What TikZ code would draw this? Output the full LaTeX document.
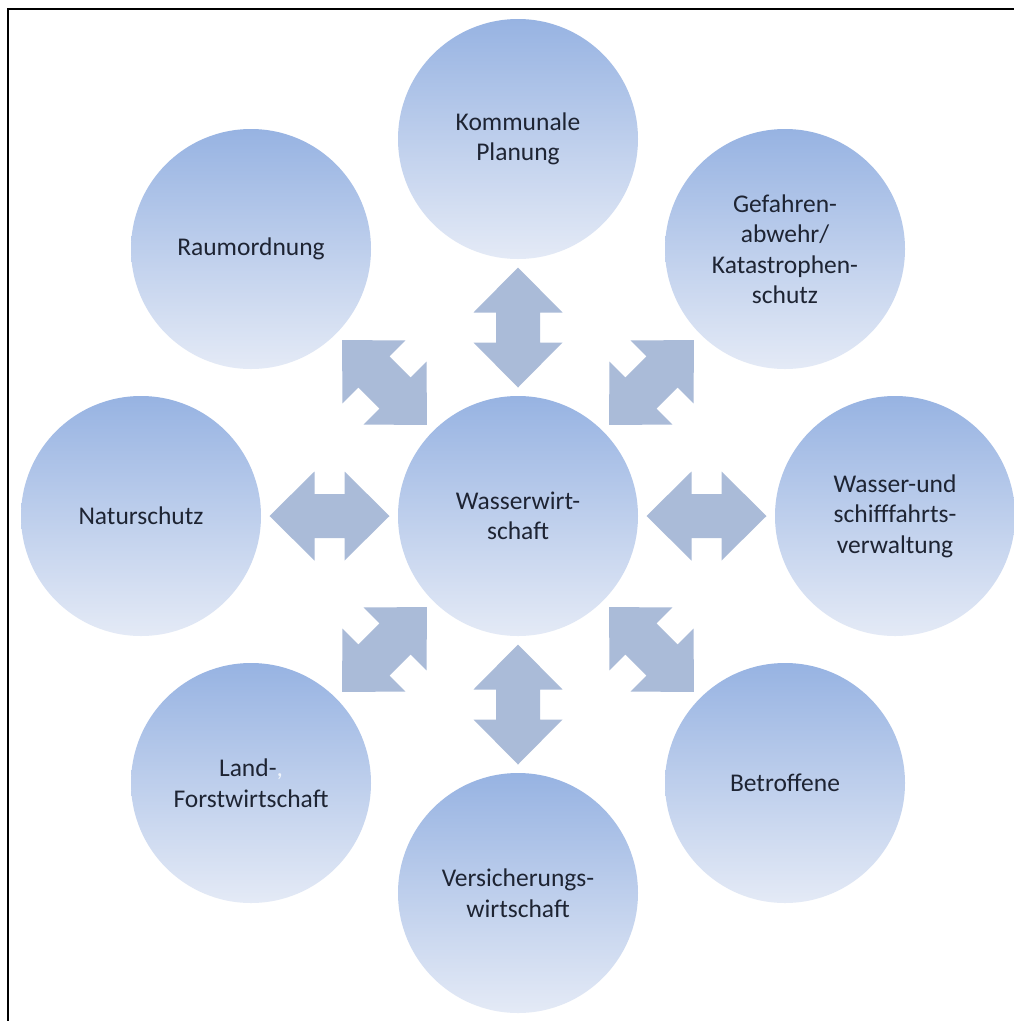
\documentclass[tikz,border=0pt]{standalone}
\usepackage{fontspec}
\setmainfont{Carlito}
\usetikzlibrary{calc}
\definecolor{ctop}{HTML}{97B3E2}
\definecolor{cbot}{HTML}{E4EAF6}
\definecolor{arrfill}{HTML}{AABBD8}
\definecolor{txt}{HTML}{1E2433}
\tikzset{
  bubble/.style={circle, minimum size=240pt, inner sep=0pt, top color=ctop, bottom color=cbot, draw=none, align=center, text=txt, font=\fontsize{25.5}{30.5}\selectfont},
  dblarr/.pic={\fill[arrfill] (-60,0) -- (-15,44.5) -- (-15,22) -- (15,22) -- (15,44.5) -- (60,0) -- (15,-44.5) -- (15,-22) -- (-15,-22) -- (-15,-44.5) -- cycle;},
  frameline/.style={line width=2.5pt, black}
}
\begin{document}
\begin{tikzpicture}[x=1pt, y=-1pt]
\useasboundingbox (0,0) rectangle (1014,1021);
\fill[white] (0,0) rectangle (1014,1021);
\coordinate (fa) at (8,1040);
\coordinate (fb) at (8,9);
\coordinate (fc) at (1040,9);
\draw[frameline] (fa) -- (fb) -- (fc);

\node[bubble] (c)  at (518,516) {Wasserwirt-\\schaft};
\node[bubble] (n)  at (518,139) {Kommunale\\Planung};
\node[bubble] (s)  at (518,893) {Versicherungs-\\wirtschaft};
\node[bubble] (w)  at (141,516) {Naturschutz};
\node[bubble] (e)  at (895,516) {Wasser-und\\schifffahrts-\\verwaltung};
\node[bubble] (nw) at (251,249) {Raumordnung};
\node[bubble] (ne) at (785,249) {Gefahren-\\abwehr/\\Katastrophen-\\schutz};
\node[bubble] (sw) at (251,783) {Land-{\color{white!85!ctop},}\\Forstwirtschaft};
\node[bubble] (se) at (785,783) {Betroffene};

\pic[rotate=90]  at ($(c)!0.5!(n)$)  {dblarr};
\pic[rotate=90]  at ($(c)!0.5!(s)$)  {dblarr};
\pic             at ($(c)!0.5!(w)$)  {dblarr};
\pic             at ($(c)!0.5!(e)$)  {dblarr};
\pic[rotate=45]  at ($(c)!0.5!(ne)$) {dblarr};
\pic[rotate=45]  at ($(c)!0.5!(sw)$) {dblarr};
\pic[rotate=-45] at ($(c)!0.5!(nw)$) {dblarr};
\pic[rotate=-45] at ($(c)!0.5!(se)$) {dblarr};
\end{tikzpicture}
\end{document}
